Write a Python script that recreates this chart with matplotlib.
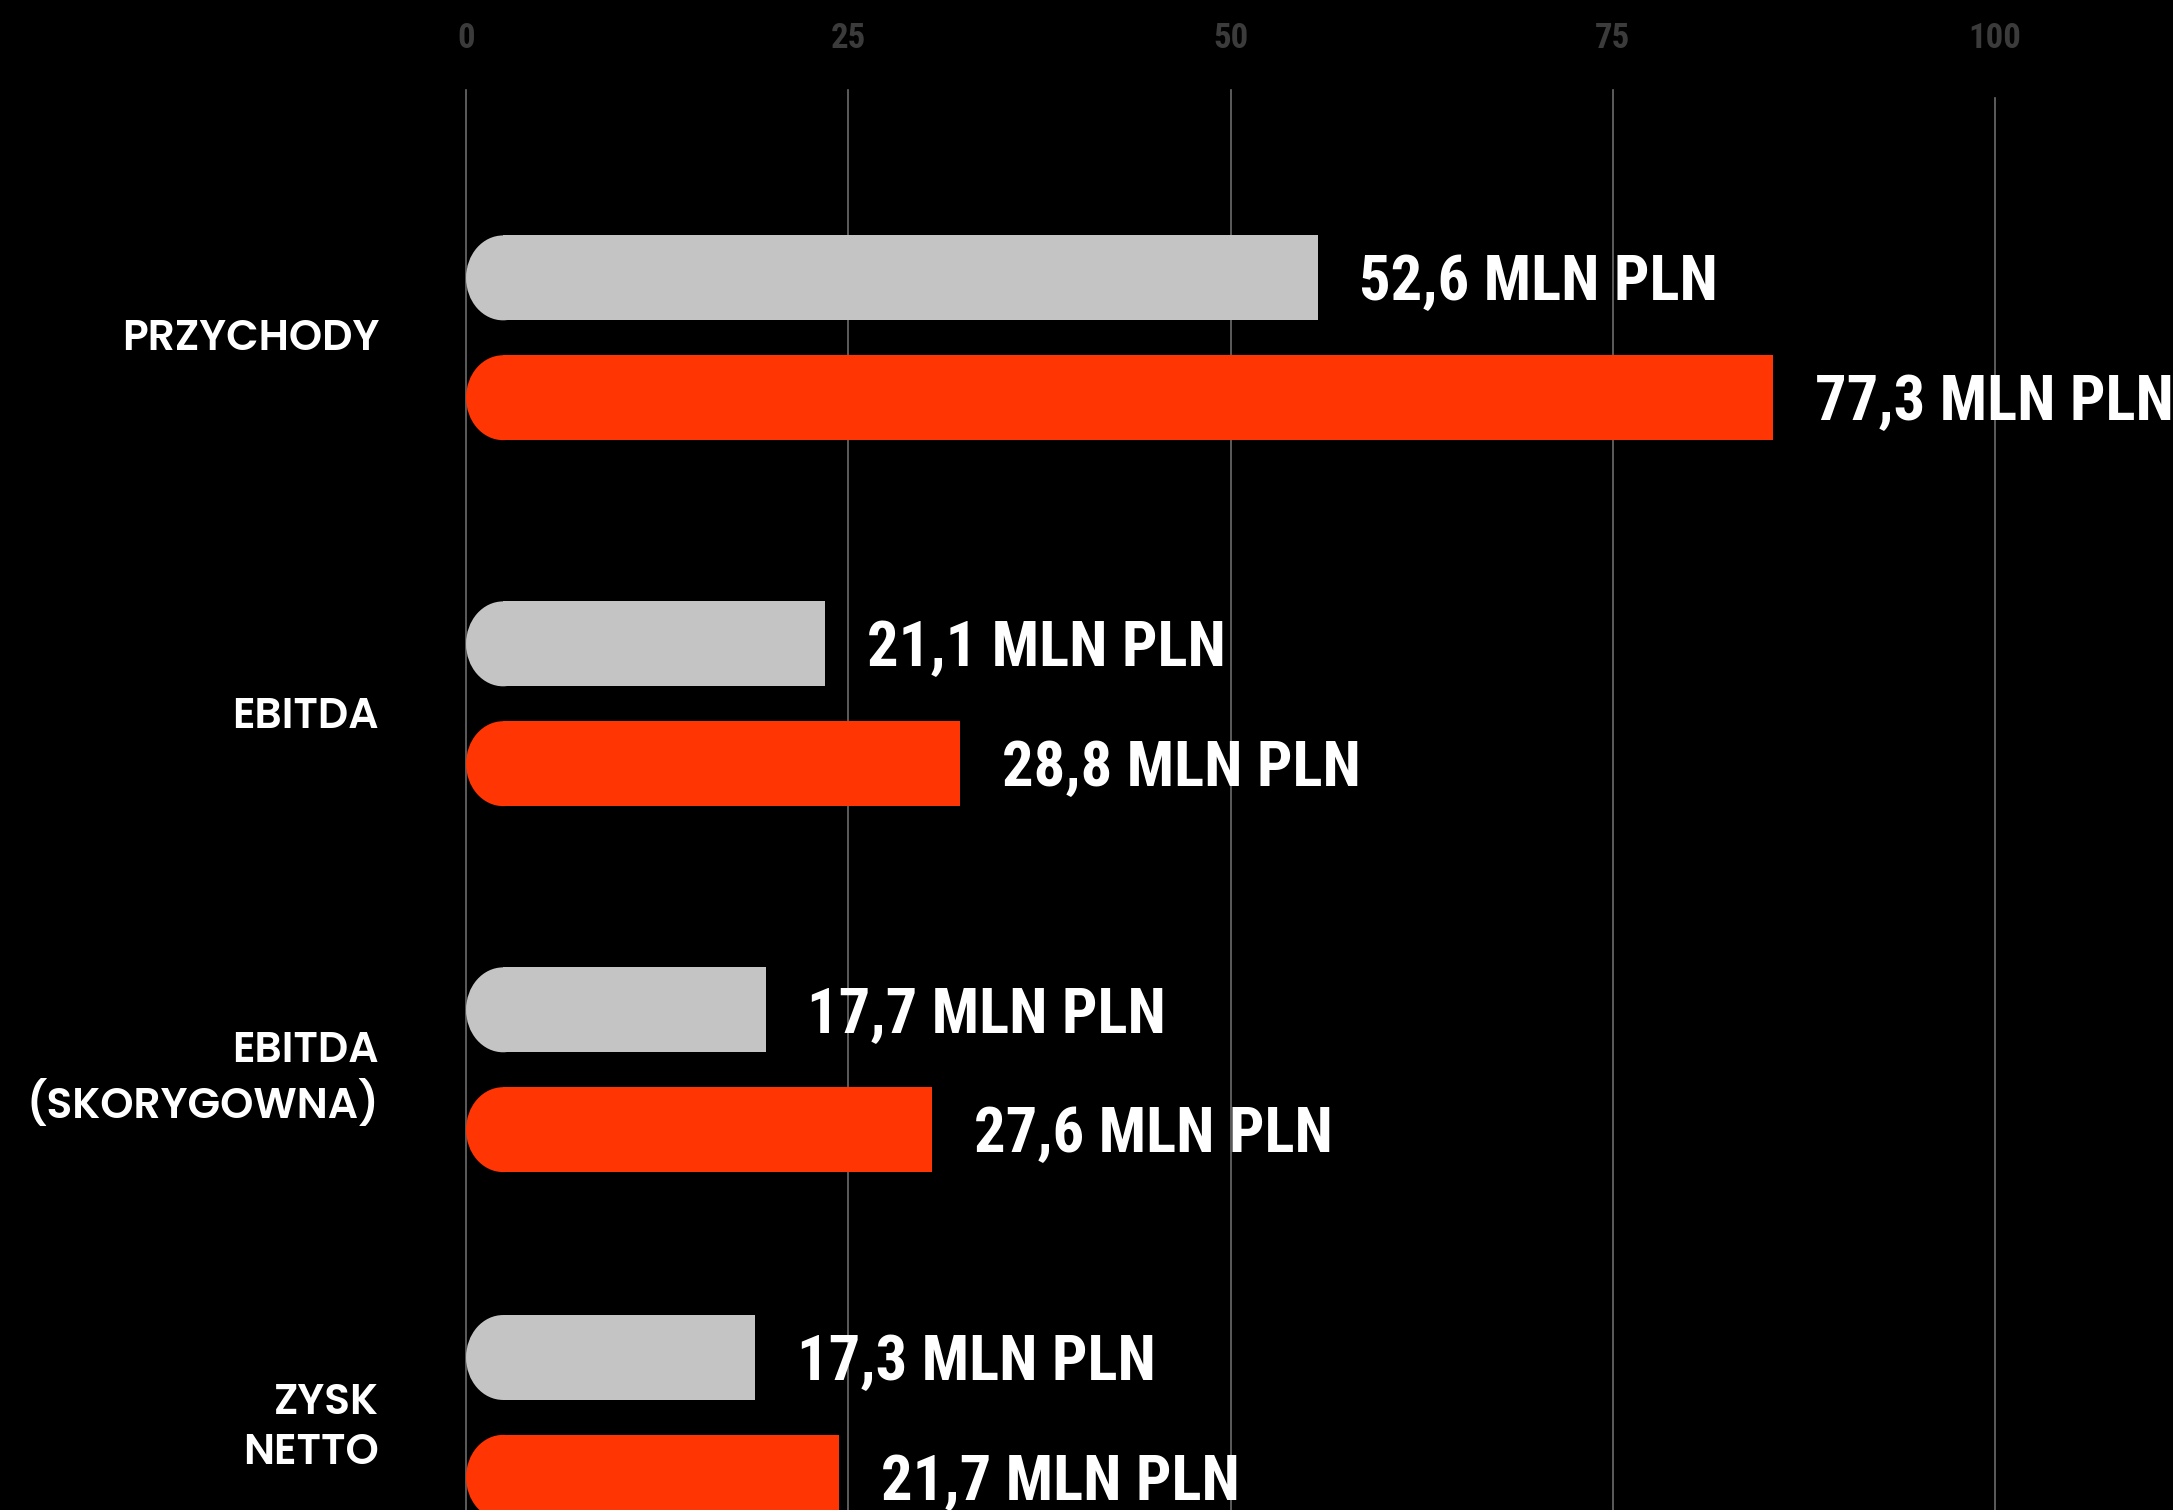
import matplotlib
matplotlib.use("Agg")
import matplotlib.pyplot as plt
from matplotlib.patches import Ellipse, Rectangle
import matplotlib.transforms as mtransforms

# data
categories = ["PRZYCHODY", "EBITDA", "EBITDA\n(SKORYGOWNA)", "ZYSK\nNETTO"]
prev_len = [55.7, 23.5, 19.6, 18.9]      # grey bars, length on the drawn axis
curr_len = [85.5, 32.3, 30.5, 24.4]      # red bars
prev_txt = ["52,6 MLN PLN", "21,1 MLN PLN", "17,7 MLN PLN", "17,3 MLN PLN"]
curr_txt = ["77,3 MLN PLN", "28,8 MLN PLN", "27,6 MLN PLN", "21,7 MLN PLN"]
ticks = [0, 25, 50, 75, 100]

# layout
group_y = [0, 1, 2, 2.95]
label_dy = [-1.5, -10, -7, -8]   # points, nudges the category labels down a bit
off = 0.1637
bar_h = 0.232
cap_w = 2.42

GREY = "#c4c4c4"
RED = "#ff3503"
cond = ["Roboto Condensed", "Barlow Condensed", "DejaVu Sans"]
cat_font = ["Poppins", "Lato", "DejaVu Sans"]

fig = plt.figure(figsize=(21.73, 15.10), dpi=100, facecolor="black")
ax = fig.add_axes([0, 0, 1, 1])
ax.set_facecolor("black")
ax.set_xlim(-30.48, 111.64)
ax.set_ylim(3.203, -0.923)
ax.axis("off")

for t in ticks:
    top = 0.935 if t == 100 else 0.9404
    ax.axvline(t, ymin=0, ymax=top, color="#6b6b6b", lw=1.2, zorder=1)

tr = mtransforms.blended_transform_factory(ax.transData, ax.transAxes)
for t in ticks:
    ax.text(t, 0.9685, str(t), transform=tr, ha="center", va="baseline",
            color="#3b3b3b", fontsize=25, fontweight="bold", family=cond)


def round_bar(y, length, color):
    ax.add_patch(Rectangle((cap_w, y - bar_h / 2), length - cap_w, bar_h,
                           facecolor=color, edgecolor="none", zorder=2))
    ax.add_patch(Ellipse((cap_w, y), 2 * cap_w, bar_h,
                         facecolor=color, edgecolor="none", zorder=2))


for i, cat in enumerate(categories):
    yc = group_y[i]
    round_bar(yc - off, prev_len[i], GREY)
    round_bar(yc + off, curr_len[i], RED)
    ax.annotate(prev_txt[i], (prev_len[i], yc - off), xytext=(30, -16),
                textcoords="offset points", ha="left", va="baseline",
                color="white", fontsize=45, fontweight="bold", family=cond, zorder=3)
    ax.annotate(curr_txt[i], (curr_len[i], yc + off), xytext=(30, -16),
                textcoords="offset points", ha="left", va="baseline",
                color="white", fontsize=45, fontweight="bold", family=cond, zorder=3)
    ax.annotate(cat, (0, yc), xytext=(-62.5, label_dy[i]), textcoords="offset points",
                ha="right", va="center", multialignment="right", linespacing=1.2,
                color="white", fontsize=30.5, fontweight="semibold", family=cat_font)

fig.savefig("out.png", dpi=100, facecolor="black")
